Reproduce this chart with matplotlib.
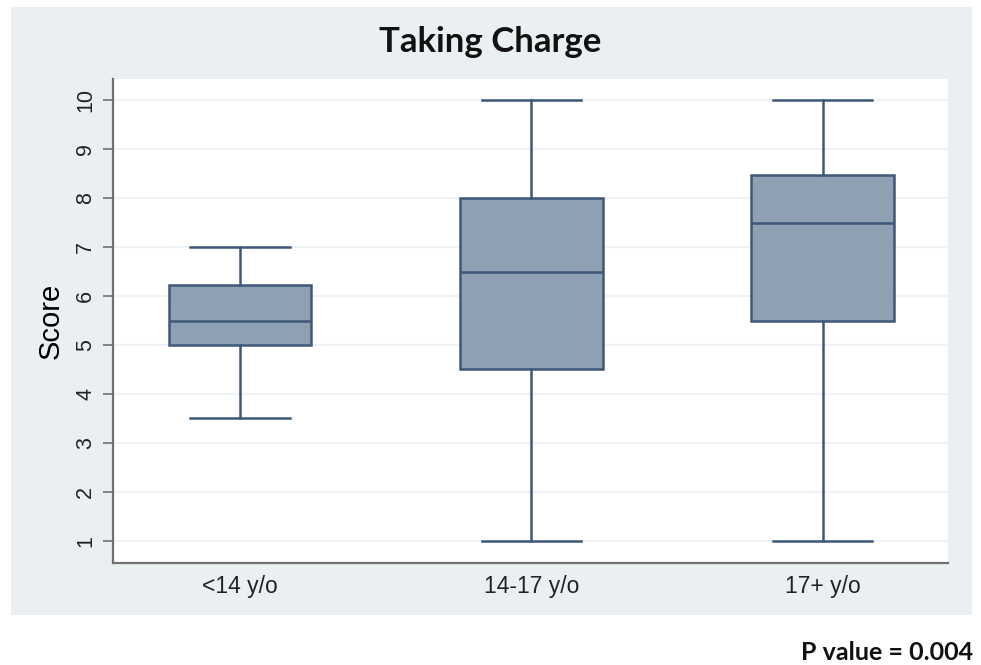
import matplotlib
matplotlib.use("Agg")
import matplotlib.pyplot as plt
from matplotlib.patches import Rectangle

categories = ["<14 y/o", "14-17 y/o", "17+ y/o"]
whisk_low = [3.5, 1.0, 1.0]
q1 = [5.0, 4.5, 5.5]
median = [5.5, 6.5, 7.5]
q3 = [6.22, 8.0, 8.47]
whisk_high = [7.0, 10.0, 10.0]
yticks = [1, 2, 3, 4, 5, 6, 7, 8, 9, 10]
title = "Taking Charge"
ylabel = "Score"
note = "P value = 0.004"

W, H = 981, 665
fig = plt.figure(figsize=(W / 100, H / 100), dpi=100)
fig.patch.set_facecolor("white")

# outer Stata-like panel
panel = Rectangle((11 / W, 1 - 615 / H), 961 / W, 608 / H,
                  transform=fig.transFigure, facecolor="#eaf0f2",
                  edgecolor="none", zorder=-5)
fig.add_artist(panel)

ax = fig.add_axes([113 / W, 1 - 563 / H, (948 - 113) / W, (563 - 79) / H])
ax.set_zorder(1)
ax.set_facecolor("white")

stats = []
for i, c in enumerate(categories):
    stats.append(dict(label=c, whislo=whisk_low[i], q1=q1[i], med=median[i],
                      q3=q3[i], whishi=whisk_high[i], fliers=[]))

edge = "#3d5878"
fill = "#8fa0b3"
ax.bxp(stats, positions=[1, 2, 3], widths=0.49, patch_artist=True,
       showfliers=False,
       boxprops=dict(facecolor=fill, edgecolor=edge, linewidth=1.8),
       medianprops=dict(color=edge, linewidth=1.8),
       whiskerprops=dict(color=edge, linewidth=1.8),
       capprops=dict(color=edge, linewidth=1.8),
       capwidths=0.34, zorder=3)

ax.set_xlim(0.564, 3.43)
ax.set_ylim(0.55, 10.43)
ax.set_yticks(yticks)
ax.set_yticklabels([str(t) for t in yticks], rotation=90, va="center",
                   fontsize=15.5, family="Liberation Sans", color="#222222")
ax.set_xticks([1, 2, 3])
ax.set_xticklabels(categories, fontsize=16.5, family="Liberation Sans",
                   color="#222222")
ax.tick_params(axis="x", length=0, pad=9)
ax.tick_params(axis="y", length=7, width=1.2, color="#707070", pad=5)
ax.yaxis.grid(True, color="#f0f3f4", linewidth=1.5, zorder=0)
ax.set_axisbelow(True)
for s in ["top", "right"]:
    ax.spines[s].set_visible(False)
for s in ["left", "bottom"]:
    ax.spines[s].set_color("#707070")
    ax.spines[s].set_linewidth(1.6)

ax.set_ylabel(ylabel, fontsize=21, family="Liberation Sans", labelpad=8)

fig.text(490 / W, 1 - 42 / H, title, ha="center", va="center",
         fontsize=25, fontweight="bold", family="Lato", color="#111111")
fig.text(973 / W, 1 - 652 / H, note, ha="right", va="center",
         fontsize=18, fontweight="bold", family="Lato", color="#111111")

fig.savefig("out.png", dpi=100)
